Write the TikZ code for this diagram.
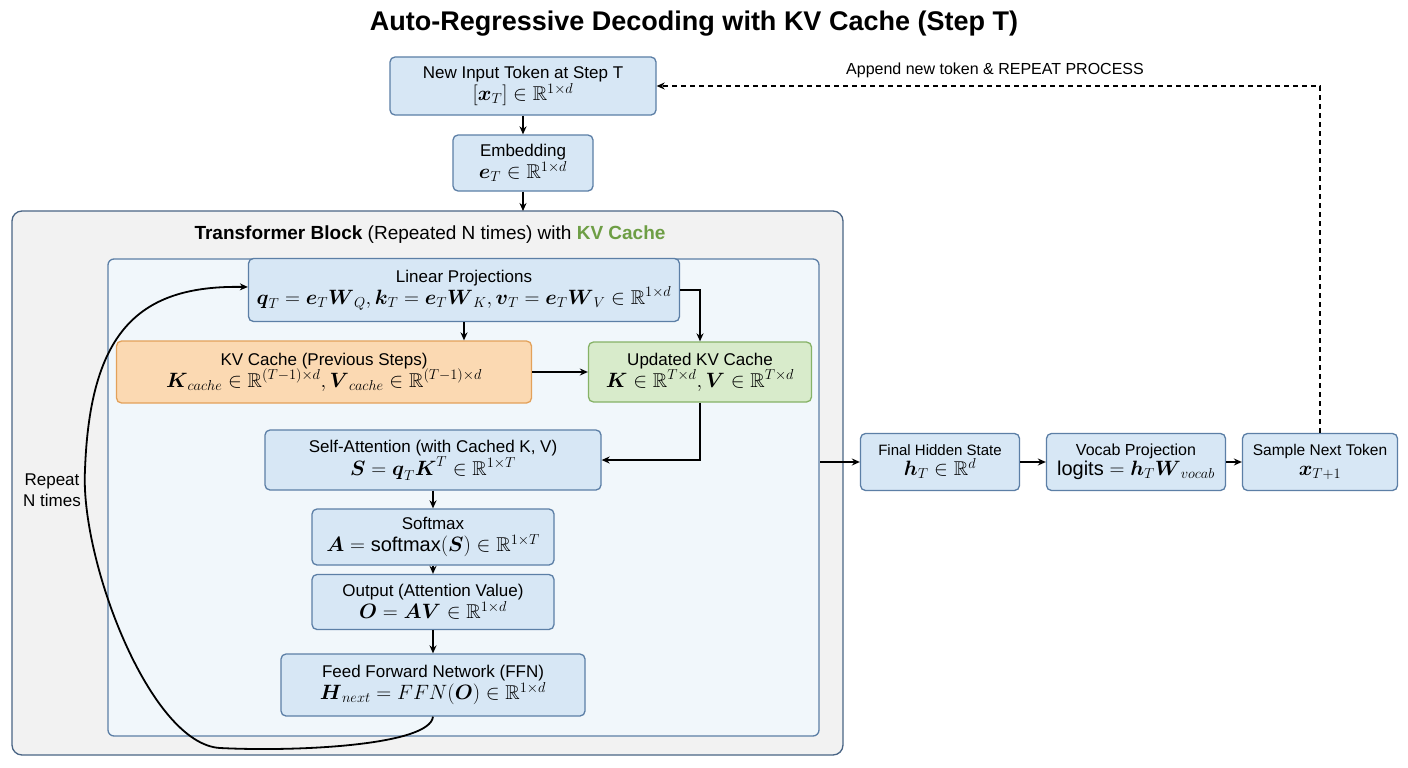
\documentclass[tikz,border=0pt]{standalone}
\usepackage{fontspec}
\usepackage{amsmath,amssymb}
\setmainfont{Liberation Sans}
\usetikzlibrary{arrows.meta}
\definecolor{bfill}{HTML}{D7E7F5}
\definecolor{bdraw}{HTML}{5C7FA6}
\definecolor{ofill}{HTML}{FBD9B2}
\definecolor{odraw}{HTML}{E3A15A}
\definecolor{gfill}{HTML}{D8EBCB}
\definecolor{gdraw}{HTML}{86B266}
\definecolor{kvg}{HTML}{6E9E45}
\tikzset{
 bx/.style={draw=bdraw,fill=bfill,line width=1.3pt,rounded corners=5pt,align=center,inner sep=2pt,font=\fontsize{17}{22}\selectfont},
 ar/.style={-{Stealth[length=8pt,width=7pt]},line width=1.4pt},
}
\newcommand{\bv}[1]{\boldsymbol{#1}}
\newcommand{\ml}[1]{{\fontsize{20}{22}\selectfont$#1$}}
\begin{document}
\begin{tikzpicture}[x=1pt,y=-1pt]
\useasboundingbox (0,0) rectangle (1408,768);
\fill[white] (0,0) rectangle (1408,768);
\node[font=\bfseries\fontsize{27}{32}\selectfont] (title) at (694,24) {Auto-Regressive Decoding with KV Cache (Step T)};
\draw[bdraw!80!black,fill=gray!10,line width=1.3pt,rounded corners=10pt] (12,211) rectangle (843,755);
\node[font=\fontsize{19}{22}\selectfont] (tbt) at (430,235) {\textbf{Transformer Block} (Repeated N times) with \textcolor{kvg}{\textbf{KV Cache}}};
\draw[bdraw,fill=bfill!35,line width=1.3pt,rounded corners=6pt] (108,259) rectangle (819,736);
\node[bx,minimum width=266pt,minimum height=58pt] (inp) at (523,86) {New Input Token at Step T\\\ml{[\bv{x}_T]\in\mathbb{R}^{1\times d}}};
\node[bx,minimum width=140pt,minimum height=56pt] (emb) at (523,163) {Embedding\\\ml{\bv{e}_T\in\mathbb{R}^{1\times d}}};
\node[bx,minimum width=431pt,minimum height=63pt] (lin) at (464,290) {Linear Projections\\\ml{\bv{q}_T=\bv{e}_T\bv{W}_Q,\bv{k}_T=\bv{e}_T\bv{W}_K,\bv{v}_T=\bv{e}_T\bv{W}_V\in\mathbb{R}^{1\times d}}};
\node[bx,draw=odraw,fill=ofill,minimum width=415pt,minimum height=62pt] (kvc) at (324,372) {KV Cache (Previous Steps)\\\ml{\bv{K}_{cache}\in\mathbb{R}^{(T-1)\times d},\bv{V}_{cache}\in\mathbb{R}^{(T-1)\times d}}};
\node[bx,draw=gdraw,fill=gfill,minimum width=223pt,minimum height=60pt] (upd) at (700,372) {Updated KV Cache\\\ml{\bv{K}\in\mathbb{R}^{T\times d},\bv{V}\in\mathbb{R}^{T\times d}}};
\node[bx,minimum width=336pt,minimum height=60pt] (sa) at (433,460) {Self-Attention (with Cached K, V)\\\ml{\bv{S}=\bv{q}_T\bv{K}^T\in\mathbb{R}^{1\times T}}};
\node[bx,minimum width=242pt,minimum height=56pt] (sm) at (433,537) {Softmax\\\ml{\bv{A}=\mathrm{softmax}(\bv{S})\in\mathbb{R}^{1\times T}}};
\node[bx,minimum width=242pt,minimum height=55pt] (out) at (433,602) {Output (Attention Value)\\\ml{\bv{O}=\bv{A}\bv{V}\in\mathbb{R}^{1\times d}}};
\node[bx,minimum width=304pt,minimum height=62pt] (ffn) at (433,685) {Feed Forward Network (FFN)\\\ml{\bv{H}_{next}=FFN(\bv{O})\in\mathbb{R}^{1\times d}}};
\node[bx,minimum width=159pt,minimum height=57pt,font=\fontsize{15}{20}\selectfont] (fh) at (940,462) {Final Hidden State\\\ml{\bv{h}_T\in\mathbb{R}^{d}}};
\node[bx,minimum width=179pt,minimum height=57pt,font=\fontsize{16}{20}\selectfont] (voc) at (1136,462) {Vocab Projection\\\ml{\mathrm{logits}=\bv{h}_T\bv{W}_{vocab}}};
\node[bx,minimum width=155pt,minimum height=57pt,font=\fontsize{15.5}{20}\selectfont] (smp) at (1320,462) {Sample Next Token\\\ml{\bv{x}_{T+1}}};
\node[font=\fontsize{17}{21}\selectfont,align=center] (rep) at (52,490) {Repeat\\N times};
\node[font=\fontsize{16}{19}\selectfont] (app) at (995,70) {Append new token \& REPEAT PROCESS};
\coordinate (bo) at (820,462);
\draw[ar] (inp) -- (emb);
\draw[ar] (emb.south) -- (523,211);
\draw[ar] (lin.south) -- (kvc.north -| lin.south);
\draw[ar] (lin.east) -- (lin.east -| upd.north) -- (upd.north);
\draw[ar] (kvc) -- (upd);
\draw[ar] (upd.south) |- (sa.east);
\draw[ar] (sa) -- (sm);
\draw[ar] (sm) -- (out);
\draw[ar] (out) -- (ffn);
\draw[ar] (bo) -- (fh);
\draw[ar] (fh) -- (voc);
\draw[ar] (voc) -- (smp);
\draw[ar,dash pattern=on 5pt off 4pt,line width=1.3pt] (smp.north) |- (inp.east);
\draw[ar,line width=1.8pt] (ffn.south) .. controls (430,745) and (300,752) .. (220,748) .. controls (150,744) and (80,560) .. (85,470) .. controls (90,330) and (140,285) .. (lin.west |- 0,287);
\end{tikzpicture}
\end{document}
